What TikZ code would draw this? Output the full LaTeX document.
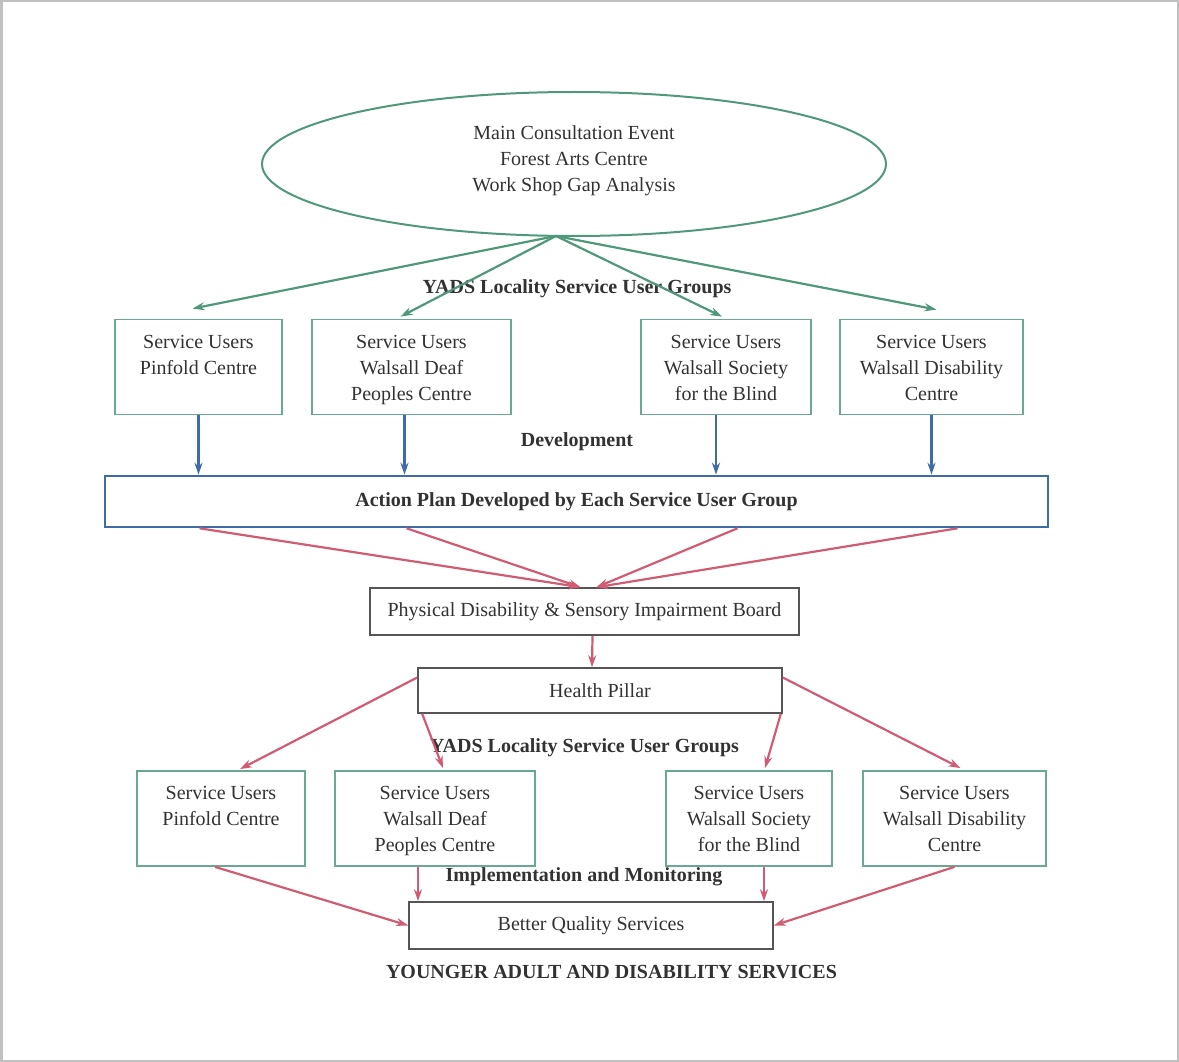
\documentclass[tikz,border=0pt]{standalone}
\usepackage{fontspec}
\setmainfont{Liberation Serif}
\usetikzlibrary{arrows.meta,shapes.geometric}

\definecolor{grn}{RGB}{80,152,122}
\definecolor{grnbox}{RGB}{105,168,146}
\definecolor{blu}{RGB}{62,108,165}
\definecolor{red}{RGB}{208,92,116}
\definecolor{gry}{RGB}{85,85,85}
\definecolor{txt}{RGB}{50,50,50}
\definecolor{frame}{RGB}{192,192,192}

\newcommand{\topstrut}{\rule{0pt}{22pt}}

\begin{document}
\begin{tikzpicture}[x=1pt,y=-1pt,>={Stealth[length=12pt,width=8pt]},
	every node/.style={font=\fontsize{20}{26}\selectfont,text=txt},
	group/.style={draw=grnbox,line width=1.8pt,minimum height=95pt,align=center,inner sep=0pt},
	plain/.style={draw=gry,line width=1.6pt,minimum height=46pt,inner sep=0pt},
	heading/.style={font=\fontsize{20}{26}\selectfont\bfseries},
	grnarr/.style={every edge/.style={draw=grn,line width=2.2pt,->}},
	bluarr/.style={every edge/.style={draw=blu,line width=2.2pt,->}},
	redarr/.style={every edge/.style={draw=red,line width=2.2pt,->}}]

\useasboundingbox (0,0) rectangle (1179,1062);
\draw[frame,line width=2.5pt] (1.25,1.25) rectangle (1177.75,1060.75);

% consultation event
\node[ellipse,draw=grn,line width=2pt,minimum width=624pt,minimum height=144pt,align=center]   (event) at (574,164)
		{Main Consultation Event\\Forest Arts Centre\\Work Shop Gap Analysis\rule[-11pt]{0pt}{11pt}};
\coordinate (hub) at (556,236);

% first row of groups
\node[group,minimum width=167pt]   (u1) at (198.5,367)   {\topstrut Service Users\\Pinfold Centre\\\strut};
\node[group,minimum width=199pt]   (u2) at (411.5,367)   {\topstrut Service Users\\Walsall Deaf\\Peoples Centre\strut};
\node[group,minimum width=170pt]   (u3) at (726,367)     {\topstrut Service Users\\Walsall Society\\for the Blind\strut};
\node[group,minimum width=183pt]   (u4) at (931.5,367)   {\topstrut Service Users\\Walsall Disability\\Centre\strut};

\node[heading]   (yads1) at (577,289)   {YADS Locality Service User Groups};
\node[heading]   (devel) at (577,442)   {Development};

\node[draw=blu,line width=2.6pt,minimum width=943pt,minimum height=51pt,inner sep=0pt,heading]   (plan) at (576.5,501.5)
		{Action Plan Developed by Each Service User Group};

\node[plain,minimum width=429pt,minimum height=47pt]   (board) at (584.5,611.5)   {Physical Disability \& Sensory Impairment Board};
\node[plain,minimum width=364pt,minimum height=45pt]   (pillar) at (600,690.5)   {Health Pillar};

\node[heading]   (yads2) at (584.5,748)   {YADS Locality Service User Groups};

% second row of groups
\node[group,minimum width=168pt]   (v1) at (221,818.5)    {\topstrut Service Users\\Pinfold Centre\\\strut};
\node[group,minimum width=200pt]   (v2) at (435,818.5)    {\topstrut Service Users\\Walsall Deaf\\Peoples Centre\strut};
\node[group,minimum width=166pt]   (v3) at (749,818.5)    {\topstrut Service Users\\Walsall Society\\for the Blind\strut};
\node[group,minimum width=183pt]   (v4) at (954.5,818.5)  {\topstrut Service Users\\Walsall Disability\\Centre\strut};

\node[heading]   (impl) at (584,877)   {Implementation and Monitoring};
\node[plain,minimum width=364pt,minimum height=47pt]   (better) at (591,925.5)   {Better Quality Services};
\node[heading]   (title) at (611.5,972)   {YOUNGER ADULT AND DISABILITY SERVICES};

	\path[grnarr] (hub)  edge   ([xshift=-6pt,yshift=10pt]u1.north)
						edge   ([xshift=-11pt,yshift=2pt]u2.north)
						edge   ([xshift=-4pt,yshift=2pt]u3.north)
						edge   ([xshift=5pt,yshift=9pt]u4.north);

	\path[bluarr] (u1.south)  edge   (u1.south |- plan.north)
						([xshift=-7pt]u2.south)  edge   ([xshift=-7pt]u2.south |- plan.north)
						([xshift=-10pt]u3.south)  edge   ([xshift=-10pt]u3.south |- plan.north)
						(u4.south)  edge   (u4.south |- plan.north);

	\path[redarr] ([xshift=-377pt]plan.south)  edge   ([xshift=-4pt]board.north)
						([xshift=-170pt]plan.south)  edge   ([xshift=-4pt]board.north)
						([xshift=161pt]plan.south)  edge   ([xshift=12pt]board.north)
						([xshift=381pt]plan.south)  edge   ([xshift=12pt]board.north)
						([xshift=8pt]board.south)  edge   ([xshift=-8pt]pillar.north)
						([yshift=13pt]pillar.west)  edge   ([xshift=19pt,yshift=1pt]v1.north)
						([xshift=5pt]pillar.south west)  edge   ([xshift=8pt,yshift=2pt]v2.north)
						([xshift=-2pt]pillar.south east)  edge   ([xshift=16pt,yshift=2pt]v3.north)
						([yshift=13pt]pillar.east)  edge   ([xshift=6pt,yshift=2pt]v4.north)
						([xshift=-6pt]v1.south)  edge   (better.west)
						([xshift=-17pt]v2.south)  edge   ([xshift=-17pt]v2.south |- better.north)
						([xshift=15pt]v3.south)  edge   ([xshift=15pt]v3.south |- better.north)
						(v4.south)  edge   (better.east);
\end{tikzpicture}
\end{document}
